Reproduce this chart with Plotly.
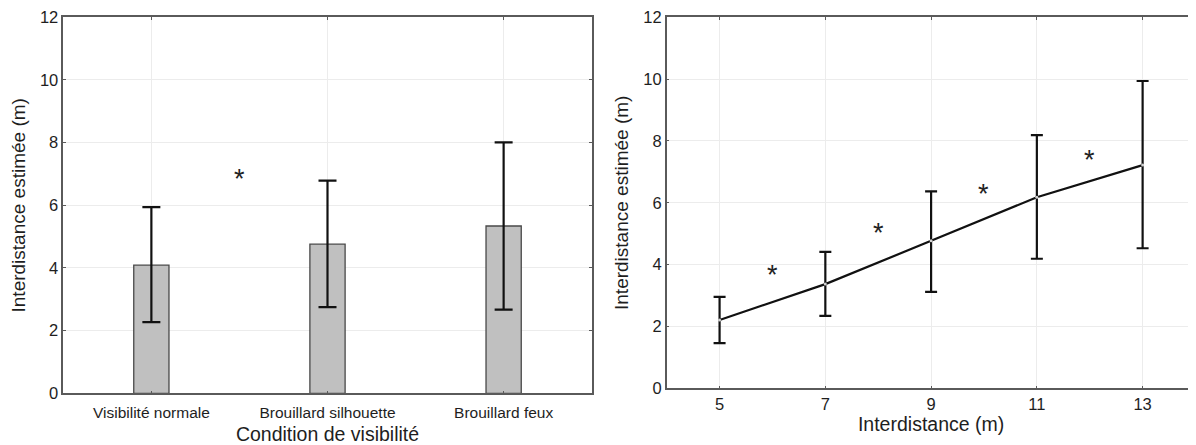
import plotly.graph_objects as go

# ---- data: left panel (bar chart) ----
conditions = ["Visibilité normale", "Brouillard silhouette", "Brouillard feux"]
cond_mean = [4.09, 4.76, 5.34]
cond_upper = [5.94, 6.79, 8.01]
cond_lower = [2.27, 2.75, 2.67]
cond_star_x = [0.5]
cond_star_y = [6.97]

# ---- data: right panel (line chart) ----
distances = [5, 7, 9, 11, 13]
dist_mean = [2.21, 3.37, 4.77, 6.18, 7.22]
dist_upper = [2.96, 4.41, 6.37, 8.19, 9.94]
dist_lower = [1.46, 2.34, 3.12, 4.19, 4.53]
dist_star_x = [6, 8, 10, 12]
dist_star_y = [3.80, 5.14, 6.41, 7.51]

y_ticks = [0, 2, 4, 6, 8, 10, 12]
x_ticks_right = [5, 7, 9, 11, 13]

FONT = "Liberation Sans, Arial, sans-serif"
OFF = 8  # default page body margin
W, H = 1196 - OFF, 445 - OFF
TXT = "#1e1e1e"


def dx(px):
    return (px - OFF) / W


def dy(py):
    return 1 - (py - OFF) / H


cond_idx = list(range(len(conditions)))

fig = go.Figure()

fig.add_trace(go.Bar(
    x=cond_idx, y=cond_mean, width=0.2,
    marker=dict(color="#c0c0c0", line=dict(color="#484848", width=1.3)),
    error_y=dict(type="data", symmetric=False,
                 array=[u - m for u, m in zip(cond_upper, cond_mean)],
                 arrayminus=[m - l for m, l in zip(cond_mean, cond_lower)],
                 color="#111111", thickness=2.2, width=9),
    xaxis="x", yaxis="y", showlegend=False,
))

fig.add_trace(go.Scatter(
    x=distances, y=dist_mean, mode="lines+markers",
    line=dict(color="#111111", width=2.2),
    marker=dict(size=3, color="#d0d0d0"),
    error_y=dict(type="data", symmetric=False,
                 array=[u - m for u, m in zip(dist_upper, dist_mean)],
                 arrayminus=[m - l for m, l in zip(dist_mean, dist_lower)],
                 color="#111111", thickness=2.2, width=6),
    xaxis="x2", yaxis="y2", showlegend=False,
))

annotations = []
for sx, sy in zip(cond_star_x, cond_star_y):
    annotations.append(dict(x=sx, y=sy, xref="x", yref="y", text="*", showarrow=False,
                            font=dict(family=FONT, size=27, color="#222"), yshift=-4))
for sx, sy in zip(dist_star_x, dist_star_y):
    annotations.append(dict(x=sx, y=sy, xref="x2", yref="y2", text="*", showarrow=False,
                            font=dict(family=FONT, size=27, color="#222"), yshift=-4))

axis_common = dict(showline=True, linecolor="#5a5a5a", linewidth=1.5, mirror="ticks",
                   ticks="inside", ticklen=3, tickcolor="#5a5a5a", automargin=False,
                   showgrid=True, gridcolor="#ececec", gridwidth=1, zeroline=False)

fig.update_layout(
    width=W, height=H,
    margin=dict(l=0, r=0, t=0, b=0, autoexpand=False),
    paper_bgcolor="white", plot_bgcolor="white",
    font=dict(family=FONT, color=TXT),
    annotations=annotations,
    xaxis=dict(domain=[dx(63.3), dx(591.7)], range=[-0.5, 2.5],
               tickvals=cond_idx, ticktext=conditions,
               tickfont=dict(size=15.5, color=TXT), ticklabelstandoff=4,
               title=dict(text="Condition de visibilité", font=dict(size=19.5, color=TXT), standoff=8),
               **axis_common),
    yaxis=dict(domain=[dy(393.3), dy(17.3)], range=[0, 12], tickvals=y_ticks,
               tickfont=dict(size=16.5, color=TXT),
               title=dict(text="Interdistance estimée (m)", font=dict(size=19, color=TXT), standoff=11),
               **axis_common),
    xaxis2=dict(domain=[dx(666.7), dx(1195.5)], range=[4, 14], tickvals=x_ticks_right,
                anchor="y2",
                tickfont=dict(size=16.5, color=TXT),
                title=dict(text="Interdistance (m)", font=dict(size=19.5, color=TXT), standoff=5),
                **axis_common),
    yaxis2=dict(domain=[dy(388.3), dy(17.3)], range=[0, 12], tickvals=y_ticks,
                anchor="x2",
                tickfont=dict(size=16.5, color=TXT),
                title=dict(text="Interdistance estimée (m)", font=dict(size=19, color=TXT), standoff=10),
                **axis_common),
)

fig.write_html("out.html")
